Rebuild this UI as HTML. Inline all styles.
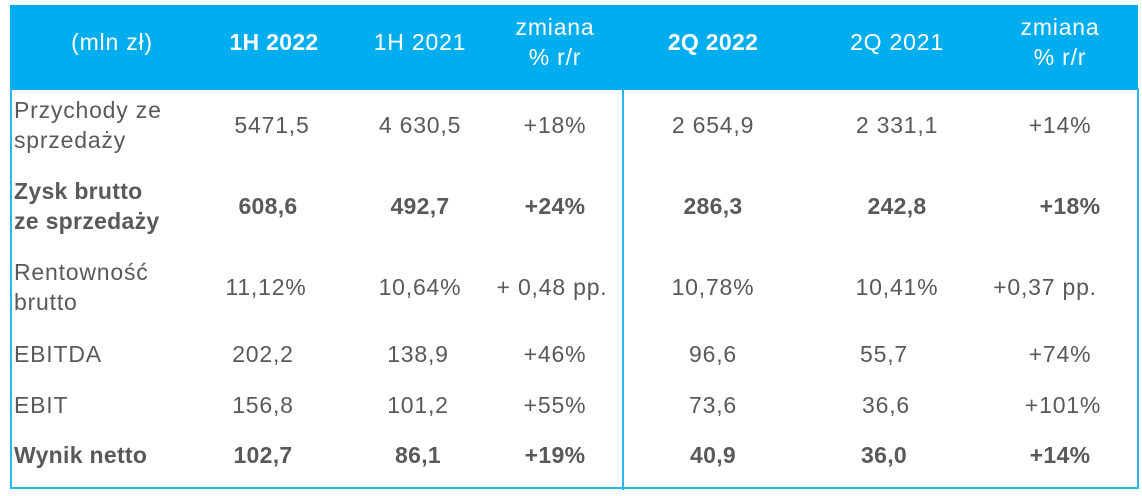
<!DOCTYPE html>
<html><head><meta charset="utf-8"><style>
body{margin:0;width:1142px;height:496px;background:#fff;position:relative;overflow:hidden;font-family:"Liberation Sans","DejaVu Sans",sans-serif;}
.hd{position:absolute;left:10px;top:5px;width:1128px;height:85px;background:#00AEEF;}
.box{position:absolute;left:10px;top:88px;width:1125px;height:399px;border:2px solid #29B6F0;border-top:none;}
.div{position:absolute;left:622px;top:88px;width:2px;height:402px;background:#29B6F0;}
.t{position:absolute;transform:translate(-50%,-50%);white-space:nowrap;font-size:23px;letter-spacing:0.8px;color:#595959;text-align:center;line-height:30px;}
.h{color:#fff;}
.l{position:absolute;left:14px;transform:translateY(-50%);font-size:23px;letter-spacing:0.8px;color:#595959;line-height:30px;white-space:nowrap;}
.b{font-weight:bold;letter-spacing:0.3px;}
</style></head><body>
<div class="hd"></div><div class="box"></div><div class="div"></div>
<div class="t h" style="left:112px;top:42px">(mln zł)</div>
<div class="t h b" style="left:274px;top:42px">1H 2022</div>
<div class="t h" style="left:420px;top:42px">1H 2021</div>
<div class="t h" style="left:555px;top:42px">zmiana<br>% r/r</div>
<div class="t h b" style="left:713px;top:42px">2Q 2022</div>
<div class="t h" style="left:897px;top:42px">2Q 2021</div>
<div class="t h" style="left:1060px;top:42px">zmiana<br>% r/r</div>

<div class="l" style="top:125px">Przychody ze<br>sprzedaży</div>
<div class="t" style="left:272px;top:125px">5471,5</div>
<div class="t" style="left:420px;top:125px">4 630,5</div>
<div class="t" style="left:555px;top:125px">+18%</div>
<div class="t" style="left:713px;top:125px">2 654,9</div>
<div class="t" style="left:897px;top:125px">2 331,1</div>
<div class="t" style="left:1060px;top:125px">+14%</div>

<div class="l b" style="top:206px">Zysk brutto<br>ze sprzedaży</div>
<div class="t b" style="left:268px;top:206px">608,6</div>
<div class="t b" style="left:420px;top:206px">492,7</div>
<div class="t b" style="left:555px;top:206px">+24%</div>
<div class="t b" style="left:713px;top:206px">286,3</div>
<div class="t b" style="left:897px;top:206px">242,8</div>
<div class="t b" style="left:1070px;top:206px">+18%</div>

<div class="l" style="top:287px">Rentowność<br>brutto</div>
<div class="t" style="left:266px;top:287px">11,12%</div>
<div class="t" style="left:420px;top:287px">10,64%</div>
<div class="t" style="left:552px;top:287px">+ 0,48 pp.</div>
<div class="t" style="left:713px;top:287px">10,78%</div>
<div class="t" style="left:897px;top:287px">10,41%</div>
<div class="t" style="left:1045px;top:287px">+0,37 pp.</div>

<div class="l" style="top:354px">EBITDA</div>
<div class="t" style="left:263px;top:354px">202,2</div>
<div class="t" style="left:418px;top:354px">138,9</div>
<div class="t" style="left:555px;top:354px">+46%</div>
<div class="t" style="left:713px;top:354px">96,6</div>
<div class="t" style="left:884px;top:354px">55,7</div>
<div class="t" style="left:1060px;top:354px">+74%</div>

<div class="l" style="top:405px">EBIT</div>
<div class="t" style="left:263px;top:405px">156,8</div>
<div class="t" style="left:418px;top:405px">101,2</div>
<div class="t" style="left:555px;top:405px">+55%</div>
<div class="t" style="left:713px;top:405px">73,6</div>
<div class="t" style="left:886px;top:405px">36,6</div>
<div class="t" style="left:1063px;top:405px">+101%</div>

<div class="l b" style="top:455px">Wynik netto</div>
<div class="t b" style="left:263px;top:455px">102,7</div>
<div class="t b" style="left:418px;top:455px">86,1</div>
<div class="t b" style="left:555px;top:455px">+19%</div>
<div class="t b" style="left:713px;top:455px">40,9</div>
<div class="t b" style="left:884px;top:455px">36,0</div>
<div class="t b" style="left:1060px;top:455px">+14%</div>
</body></html>
